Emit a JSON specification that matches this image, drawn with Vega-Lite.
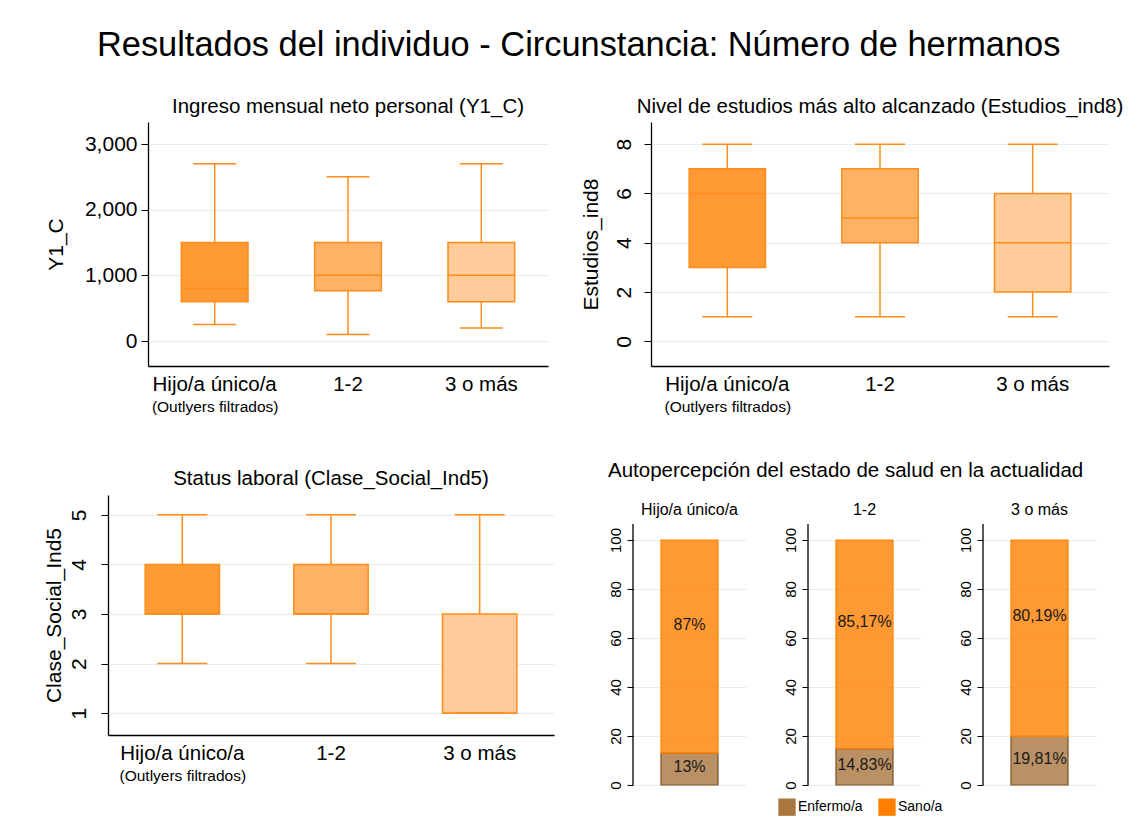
{
  "$schema": "https://vega.github.io/schema/vega-lite/v6.json",
  "padding": {"left": 34, "top": 28, "right": 0, "bottom": 0},
  "background": "white",
  "title": {"text": "Resultados del individuo - Circunstancia: Número de hermanos", "fontSize": 34.4, "fontWeight": "normal", "color": "#000", "anchor": "middle", "offset": 33},
  "config": {
    "font": "Liberation Sans",
    "view": {"stroke": null},
    "axis": {"domainColor": "#000", "domainWidth": 1.3, "tickColor": "#000", "labelColor": "#000", "titleColor": "#000", "gridColor": "#e6eff0", "titleFontWeight": "normal"},
    "title": {"fontWeight": "normal", "color": "#000"},
    "header": {"labelColor": "#000"},
    "legend": {"labelColor": "#000"}
  },
  "vconcat": [
    {
      "spacing": 32,
      "hconcat": [
        {
          "spacing": 10,
          "hconcat": [
            {"width": 1, "height": 1, "data": {"values": []}, "mark": "point", "encoding": {}},
            {
              "width": 400, "height": 244,
              "title": {"text": "Ingreso mensual neto personal (Y1_C)", "fontSize": 20.5, "offset": 5},
              "data": {"values": [
                {"g": "Hijo/a único/a", "lo": 250, "q1": 600, "med": 800, "q3": 1500, "hi": 2700},
                {"g": "1-2", "lo": 100, "q1": 765, "med": 1000, "q3": 1500, "hi": 2500},
                {"g": "3 o más", "lo": 200, "q1": 600, "med": 1000, "q3": 1500, "hi": 2700}
              ]},
              "encoding": {"x": {"field": "g", "type": "nominal", "sort": ["Hijo/a único/a", "1-2", "3 o más"], "scale": {"paddingInner": 0, "paddingOuter": 0},
                "axis": {"title": "(Outlyers filtrados)", "titleFontSize": 15.5, "titleX": 66.7, "titleAlign": "center", "titlePadding": 5, "labelAngle": 0, "labelFontSize": 20.5, "ticks": false, "labelPadding": 8, "grid": false}}},
              "layer": [
                {"mark": {"type": "rule", "color": "#ff8c1a", "strokeWidth": 1.5},
                 "encoding": {"y": {"field": "lo", "type": "quantitative", "scale": {"domain": [-380, 3335], "nice": false, "zero": false},
                   "axis": {"title": "Y1_C", "titleFontSize": 21, "labelFontSize": 21, "values": [0, 1000, 2000, 3000], "format": ",d", "tickSize": 7, "grid": true, "labelPadding": 4, "titlePadding": 18}},
                   "y2": {"field": "hi"}}},
                {"mark": {"type": "bar", "width": {"band": 0.5}, "stroke": "#ff8c1a", "strokeWidth": 1.5},
                 "encoding": {"y": {"field": "q1", "type": "quantitative"}, "y2": {"field": "q3"},
                   "fill": {"field": "g", "type": "nominal", "scale": {"domain": ["Hijo/a único/a", "1-2", "3 o más"], "range": ["#ff9933", "#ffb266", "#ffcc99"]}, "legend": null}}},
                {"mark": {"type": "tick", "color": "#ff8c1a", "thickness": 1.5, "size": 67, "opacity": 1}, "encoding": {"y": {"field": "med", "type": "quantitative"}}},
                {"mark": {"type": "tick", "color": "#ff8c1a", "thickness": 1.5, "size": 43, "opacity": 1}, "encoding": {"y": {"field": "lo", "type": "quantitative"}}},
                {"mark": {"type": "tick", "color": "#ff8c1a", "thickness": 1.5, "size": 43, "opacity": 1}, "encoding": {"y": {"field": "hi", "type": "quantitative"}}}
              ]
            }
          ]
        },
        {
          "width": 458, "height": 244,
          "title": {"text": "Nivel de estudios más alto alcanzado (Estudios_ind8)", "fontSize": 20.5, "offset": 5},
          "data": {"values": [
            {"g": "Hijo/a único/a", "lo": 1, "q1": 3, "med": 6, "q3": 7, "hi": 8},
            {"g": "1-2", "lo": 1, "q1": 4, "med": 5, "q3": 7, "hi": 8},
            {"g": "3 o más", "lo": 1, "q1": 2, "med": 4, "q3": 6, "hi": 8}
          ]},
          "encoding": {"x": {"field": "g", "type": "nominal", "sort": ["Hijo/a único/a", "1-2", "3 o más"], "scale": {"paddingInner": 0, "paddingOuter": 0},
            "axis": {"title": "(Outlyers filtrados)", "titleFontSize": 15.5, "titleX": 76.3, "titleAlign": "center", "titlePadding": 5, "labelAngle": 0, "labelFontSize": 20.5, "ticks": false, "labelPadding": 8, "grid": false}}},
          "layer": [
            {"mark": {"type": "rule", "color": "#ff8c1a", "strokeWidth": 1.5},
             "encoding": {"y": {"field": "lo", "type": "quantitative", "scale": {"domain": [-1, 8.9], "nice": false, "zero": false},
               "axis": {"title": "Estudios_ind8", "titleFontSize": 21, "labelFontSize": 21, "values": [0, 2, 4, 6, 8], "labelAngle": -90, "labelAlign": "center", "labelBaseline": "bottom", "tickSize": 7, "grid": true, "labelPadding": 10, "titlePadding": 12}},
               "y2": {"field": "hi"}}},
            {"mark": {"type": "bar", "width": {"band": 0.5}, "stroke": "#ff8c1a", "strokeWidth": 1.5},
             "encoding": {"y": {"field": "q1", "type": "quantitative"}, "y2": {"field": "q3"},
               "fill": {"field": "g", "type": "nominal", "scale": {"domain": ["Hijo/a único/a", "1-2", "3 o más"], "range": ["#ff9933", "#ffb266", "#ffcc99"]}, "legend": null}}},
            {"mark": {"type": "tick", "color": "#ff8c1a", "thickness": 1.5, "size": 76, "opacity": 1}, "encoding": {"y": {"field": "med", "type": "quantitative"}}},
            {"mark": {"type": "tick", "color": "#ff8c1a", "thickness": 1.5, "size": 50, "opacity": 1}, "encoding": {"y": {"field": "lo", "type": "quantitative"}}},
            {"mark": {"type": "tick", "color": "#ff8c1a", "thickness": 1.5, "size": 50, "opacity": 1}, "encoding": {"y": {"field": "hi", "type": "quantitative"}}}
          ]
        }
      ]
    },
    {
      "spacing": 54,
      "hconcat": [
        {
          "spacing": 7,
          "hconcat": [
            {"width": 1, "height": 1, "data": {"values": []}, "mark": "point", "encoding": {}},
            {
              "width": 446, "height": 240,
              "title": {"text": "Status laboral (Clase_Social_Ind5)", "fontSize": 20.5, "offset": 6},
              "data": {"values": [
                {"g": "Hijo/a único/a", "lo": 2, "q1": 3, "med": 3, "q3": 4, "hi": 5},
                {"g": "1-2", "lo": 2, "q1": 3, "med": 3, "q3": 4, "hi": 5},
                {"g": "3 o más", "lo": 1, "q1": 1, "med": 1, "q3": 3, "hi": 5}
              ]},
              "encoding": {"x": {"field": "g", "type": "nominal", "sort": ["Hijo/a único/a", "1-2", "3 o más"], "scale": {"paddingInner": 0, "paddingOuter": 0},
                "axis": {"title": "(Outlyers filtrados)", "titleFontSize": 15.5, "titleX": 74.3, "titleAlign": "center", "titlePadding": 5, "labelAngle": 0, "labelFontSize": 20.5, "ticks": false, "labelPadding": 8, "grid": false}}},
              "layer": [
                {"mark": {"type": "rule", "color": "#ff8c1a", "strokeWidth": 1.5},
                 "encoding": {"y": {"field": "lo", "type": "quantitative", "scale": {"domain": [0.56, 5.4], "nice": false, "zero": false},
                   "axis": {"title": "Clase_Social_Ind5", "titleFontSize": 21, "labelFontSize": 21, "values": [1, 2, 3, 4, 5], "labelAngle": -90, "labelAlign": "center", "labelBaseline": "bottom", "tickSize": 7, "grid": true, "labelPadding": 12, "titlePadding": 4}},
                   "y2": {"field": "hi"}}},
                {"mark": {"type": "bar", "width": {"band": 0.5}, "stroke": "#ff8c1a", "strokeWidth": 1.5},
                 "encoding": {"y": {"field": "q1", "type": "quantitative"}, "y2": {"field": "q3"},
                   "fill": {"field": "g", "type": "nominal", "scale": {"domain": ["Hijo/a único/a", "1-2", "3 o más"], "range": ["#ff9933", "#ffb266", "#ffcc99"]}, "legend": null}}},
                {"mark": {"type": "tick", "color": "#ff8c1a", "thickness": 1.5, "size": 74, "opacity": 1}, "encoding": {"y": {"field": "med", "type": "quantitative"}}},
                {"mark": {"type": "tick", "color": "#ff8c1a", "thickness": 1.5, "size": 50, "opacity": 1}, "encoding": {"y": {"field": "lo", "type": "quantitative"}}},
                {"mark": {"type": "tick", "color": "#ff8c1a", "thickness": 1.5, "size": 50, "opacity": 1}, "encoding": {"y": {"field": "hi", "type": "quantitative"}}}
              ]
            }
          ]
        },
        {
          "title": {"text": "Autopercepción del estado de salud en la actualidad", "fontSize": 20.5, "offset": 14},
          "data": {"values": [
            {"g": "Hijo/a único/a", "estado": "Enfermo/a", "pct": 13},
            {"g": "Hijo/a único/a", "estado": "Sano/a", "pct": 87},
            {"g": "1-2", "estado": "Enfermo/a", "pct": 14.83},
            {"g": "1-2", "estado": "Sano/a", "pct": 85.17},
            {"g": "3 o más", "estado": "Enfermo/a", "pct": 19.81},
            {"g": "3 o más", "estado": "Sano/a", "pct": 80.19}
          ]},
          "facet": {"column": {"field": "g", "type": "nominal", "sort": ["Hijo/a único/a", "1-2", "3 o más"], "header": {"title": null, "labels": false}}},
          "spacing": 37,
          "resolve": {"scale": {"x": "independent"}, "axis": {"y": "independent"}},
          "spec": {
            "width": 113, "height": 290,
            "encoding": {"x": {"field": "g", "type": "nominal", "axis": null, "scale": {"paddingInner": 0, "paddingOuter": 0}}},
            "layer": [
              {"transform": [{"filter": "datum.estado == 'Sano/a'"}],
               "mark": {"type": "rule", "color": "#000", "strokeWidth": 1.3},
               "encoding": {"x": {"field": "g", "type": "nominal", "bandPosition": 0}, "y": {"datum": 0, "type": "quantitative"}, "y2": {"datum": 106.5}}},
              {"mark": {"type": "bar", "width": 57, "fillOpacity": 0.8, "strokeWidth": 1.2},
               "encoding": {
                 "y": {"field": "pct", "type": "quantitative", "stack": "zero", "scale": {"domain": [0, 118.37], "nice": false},
                   "axis": {"title": null, "domain": false, "values": [0, 20, 40, 60, 80, 100], "labelFontSize": 15, "labelAngle": -90, "labelAlign": "center", "labelBaseline": "bottom", "tickSize": 6, "grid": true, "labelPadding": 4}},
                 "color": {"field": "estado", "type": "nominal", "scale": {"domain": ["Enfermo/a", "Sano/a"], "range": ["#a8763e", "#ff7f00"]},
                   "legend": {"title": null, "orient": "none", "legendX": 744, "legendY": 676, "direction": "horizontal", "symbolType": "square", "symbolSize": 300, "symbolOpacity": 1, "symbolStrokeWidth": 0, "labelFontSize": 14, "labelOffset": 2, "columnPadding": 15}},
                 "stroke": {"field": "estado", "type": "nominal", "scale": {"domain": ["Enfermo/a", "Sano/a"], "range": ["#7a4f25", "#ff8000"]}, "legend": null},
                 "order": {"field": "estado", "type": "nominal", "sort": "ascending"}
               }},
              {"transform": [
                 {"stack": "pct", "groupby": ["g"], "sort": [{"field": "estado"}], "as": ["y0", "y1"]},
                 {"calculate": "(datum.y0 + datum.y1) / 2", "as": "ymid"},
                 {"calculate": "replace(format(datum.pct, '.2~f'), '.', ',') + '%'", "as": "lab"},
                 {"filter": "datum.estado == 'Enfermo/a'"}
               ],
               "mark": {"type": "text", "fontSize": 16, "color": "#1a1a1a", "dy": -2},
               "encoding": {"y": {"field": "ymid", "type": "quantitative"}, "text": {"field": "lab"}}},
              {"transform": [
                 {"stack": "pct", "groupby": ["g"], "sort": [{"field": "estado"}], "as": ["y0", "y1"]},
                 {"calculate": "(datum.y0 + datum.y1) / 2", "as": "ymid"},
                 {"calculate": "replace(format(datum.pct, '.2~f'), '.', ',') + '%'", "as": "lab"},
                 {"filter": "datum.estado == 'Sano/a'"}
               ],
               "mark": {"type": "text", "fontSize": 16, "color": "#1a1a1a", "dy": -22},
               "encoding": {"y": {"field": "ymid", "type": "quantitative"}, "text": {"field": "lab"}}},
              {"transform": [{"filter": "datum.estado == 'Sano/a'"}],
               "mark": {"type": "text", "fontSize": 16, "color": "#000"},
               "encoding": {"y": {"datum": 112.2, "type": "quantitative"}, "text": {"field": "g"}}}
            ]
          }
        }
      ]
    }
  ],
  "spacing": 45
}
